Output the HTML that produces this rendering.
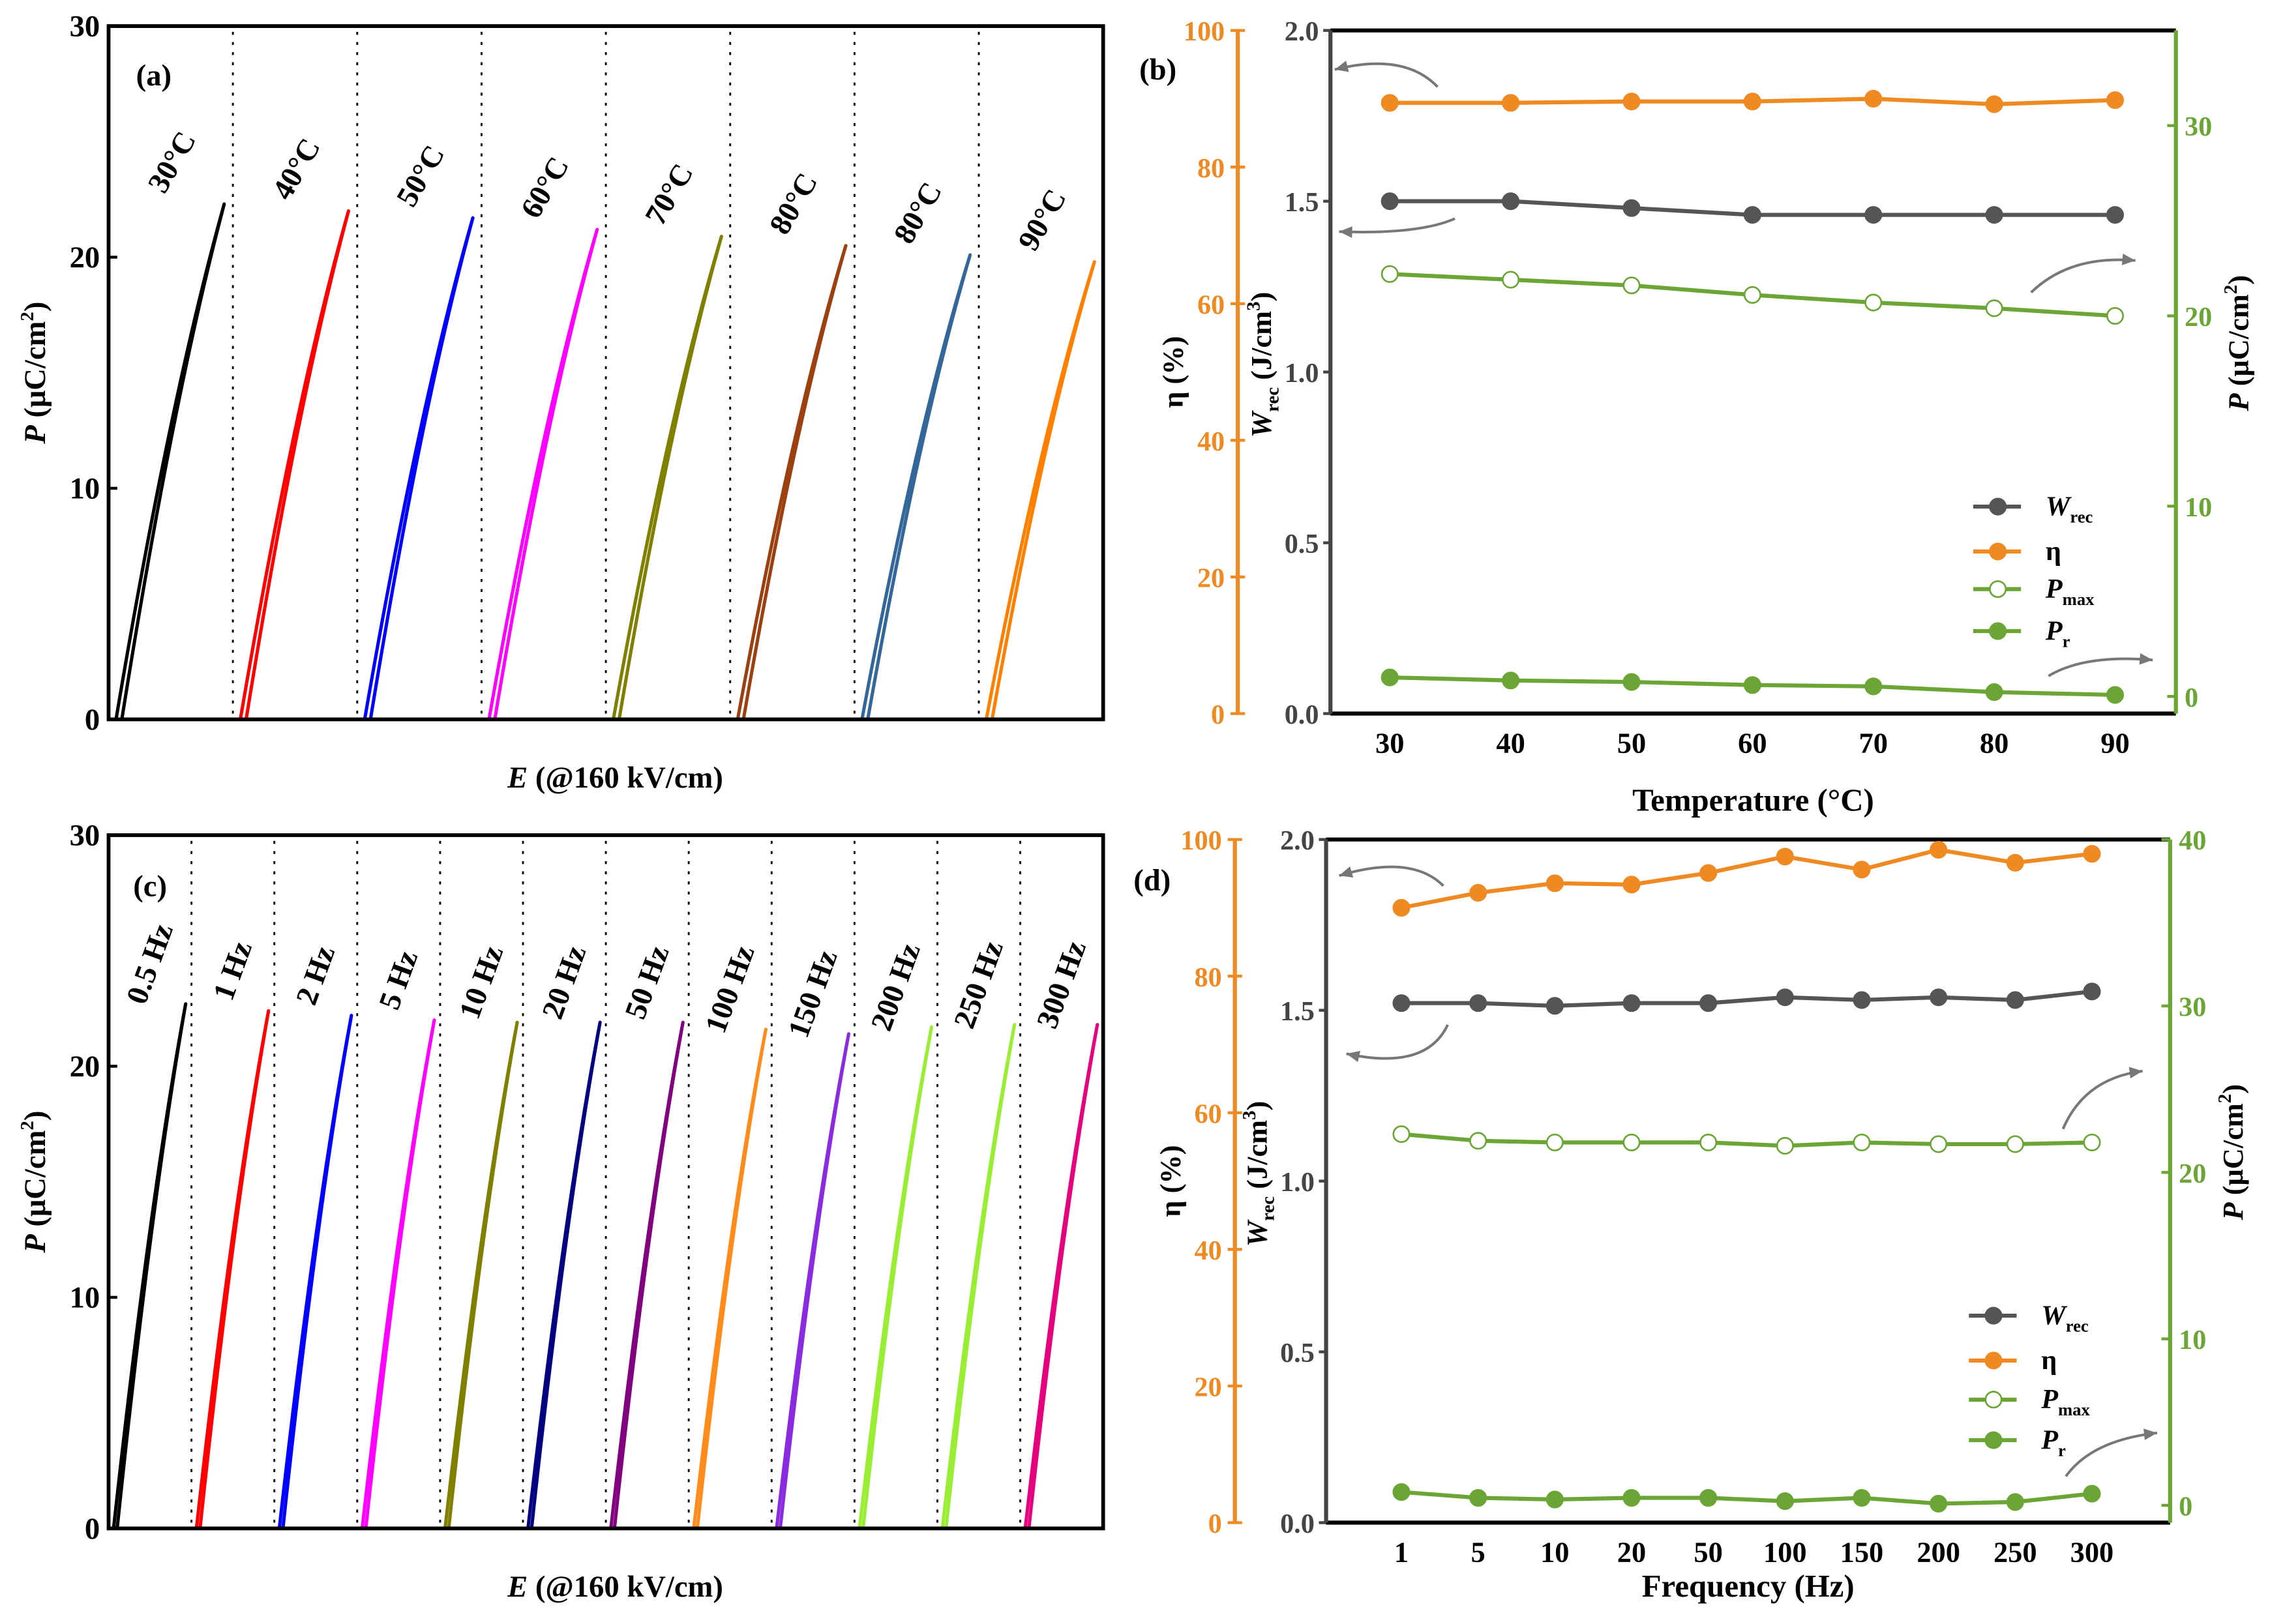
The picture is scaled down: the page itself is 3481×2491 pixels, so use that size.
<!DOCTYPE html>
<html><head><meta charset="utf-8">
<style>
html,body{margin:0;padding:0;background:#fff;}
svg{display:block;}
text{font-family:"Liberation Serif",serif;font-weight:bold;}
</style></head>
<body>
<svg id="fig" xmlns="http://www.w3.org/2000/svg" width="3481" height="2491" viewBox="0 0 1568 1122">
<rect x="0" y="0" width="1568" height="1122" fill="#fff"/>
<g id="gA"></g>
<g id="gC"></g>
<g id="gB"></g>
<g id="gD"></g>
</svg>
<script>
// ---- data ----
const aLabels = ["30°C","40°C","50°C","60°C","70°C","80°C","80°C","90°C"];
const aPmax = [22.3,22.0,21.7,21.2,20.9,20.5,20.1,19.8];
const aColors = ["#000000","#ff0000","#0000ff","#ff00ff","#808000","#9c4010","#336699","#ff8000"];
const cLabels = ["0.5 Hz","1 Hz","2 Hz","5 Hz","10 Hz","20 Hz","50 Hz","100 Hz","150 Hz","200 Hz","250 Hz","300 Hz"];
const cPmax = [22.7,22.4,22.2,22.0,21.9,21.9,21.9,21.6,21.4,21.7,21.8,21.8];
const cColors = ["#000000","#ff0000","#0000ff","#ff00ff","#808000","#000080","#800080","#ff8c1a","#8a2be2","#99ee33","#99ee33","#e6007e"];
const peTicks = [0,10,20,30];

const bTemps = [30,40,50,60,70,80,90];
const bW = [1.50,1.50,1.48,1.46,1.46,1.46,1.46];
const bEta = [89.4,89.4,89.6,89.6,90.0,89.2,89.8];
const bPmax = [22.2,21.9,21.6,21.1,20.7,20.4,20.0];
const bPr = [1.0,0.84,0.76,0.6,0.53,0.23,0.08];

const dFreqs = ["1","5","10","20","50","100","150","200","250","300"];
const dW = [1.521,1.521,1.513,1.521,1.521,1.538,1.53,1.538,1.53,1.555];
const dEta = [90.0,92.2,93.6,93.4,95.1,97.5,95.6,98.5,96.6,97.9];
const dPmax = [22.3,21.9,21.8,21.8,21.8,21.6,21.8,21.7,21.7,21.8];
const dPr = [0.8,0.45,0.35,0.45,0.45,0.25,0.45,0.1,0.2,0.7];

const wTicks = [0,0.5,1.0,1.5,2.0];
const etaTicks = [0,20,40,60,80,100];
const bPTicks = [0,10,20,30];
const dPTicks = [0,10,20,30,40];

const NS="http://www.w3.org/2000/svg";
function mk(parent,tag,attrs,txt){const e=document.createElementNS(NS,tag);for(const k in attrs)e.setAttribute(k,attrs[k]);if(txt!==undefined)e.textContent=txt;parent.appendChild(e);return e;}
const ORANGE="#ef8a23", GREEN="#6aa535", GRAY="#444";

// ---- P-E panels ----
function pePanel(g,top,bottom,labels,pmax,colors,off,rot,panelTxt,labX,labY,lblDy){
  const L=75,R=762;
  const y=v=>bottom-(v/30)*(bottom-top);
  const n=labels.length, w=(R-L)/n;
  for(let i=1;i<n;i++){
    const ln=mk(g,'line',{x1:L+i*w,x2:L+i*w,y1:top+4,y2:bottom,stroke:'#000','stroke-width':1.3,'stroke-dasharray':'2 5'});
    
    
  }
  for(let i=0;i<n;i++){
    const s=L+i*w, x0=s+0.06*w, x1=s+0.93*w;
    let up="",dn="";
    for(let k=0;k<=30;k++){const e=k/30;const f=1.25*e-0.25*e*e;const px=x0+e*(x1-x0);const py=y(pmax[i]*f);
      up+=(k?"L":"M")+px.toFixed(2)+","+py.toFixed(2)+" ";}
    for(let k=30;k>=0;k--){const e=k/30;const f=1.25*e-0.25*e*e;const px=x0+e*(x1-x0)+off*(1-e);const py=y(pmax[i]*f);
      dn+="L"+px.toFixed(2)+","+py.toFixed(2)+" ";}
    const p=mk(g,'path',{d:up+dn,fill:'none',stroke:colors[i],'stroke-width':2.3,'stroke-linejoin':'round'});
    
    
    const tx=s+0.53*w, ty=y(pmax[i])+lblDy;
    const t=mk(g,'text',{x:tx,y:ty,'font-size':21,'text-anchor':'middle','dominant-baseline':'middle',transform:`rotate(${rot} ${tx} ${ty})`},labels[i]);
    
    
  }
  const box=mk(g,'rect',{x:L,y:top,width:R-L,height:bottom-top,fill:'none',stroke:'#000','stroke-width':2.6});
  
  
  for(const v of peTicks){
    const tk=mk(g,'line',{x1:L,x2:L+6,y1:y(v),y2:y(v),stroke:'#000','stroke-width':2});
    
    
    const t=mk(g,'text',{x:L-6,y:y(v)+7,'font-size':21,'text-anchor':'end'},String(v));
    
    
  }
  const yl=mk(g,'text',{x:31,y:(top+bottom)/2,'font-size':21,'text-anchor':'middle',transform:`rotate(-90 31 ${(top+bottom)/2})`});
  yl.innerHTML='<tspan font-style="italic">P</tspan> (μC/cm<tspan font-size="13" dy="-8">2</tspan><tspan dy="8">)</tspan>';
  
  
  const xl=mk(g,'text',{x:425,y:bottom+47,'font-size':21,'text-anchor':'middle'});
  xl.innerHTML='<tspan font-style="italic">E</tspan> (@160 kV/cm)';
  
  
  const pl=mk(g,'text',{x:labX,y:labY,'font-size':21},panelTxt);
  
  
}
pePanel(document.getElementById('gA'),18,497,aLabels,aPmax,aColors,4,-60,"(a)",94,59,-28);
pePanel(document.getElementById('gC'),577,1056,cLabels,cPmax,cColors,2.5,-70,"(c)",92,619,-27);

// ---- property panels ----
function arrow(g,d){
  const p=mk(g,'path',{d:d,fill:'none',stroke:'#777','stroke-width':1.8});
  
  
  const nums=d.match(/-?[\d.]+/g).map(Number);
  const ex=nums[nums.length-2], ey=nums[nums.length-1], cx=nums[nums.length-4], cy=nums[nums.length-3];
  const a=Math.atan2(ey-cy,ex-cx), s=9;
  const pts=[[ex,ey],[ex-s*Math.cos(a)+4*Math.sin(a),ey-s*Math.sin(a)-4*Math.cos(a)],[ex-s*Math.cos(a)-4*Math.sin(a),ey-s*Math.sin(a)+4*Math.cos(a)]];
  const h=mk(g,'polygon',{points:pts.map(q=>q.join(',')).join(' '),fill:'#777'});
  
  
}
function propPanel(g,o){
  const {top,bottom,L,R,OX,xTicks,xPos,W,Eta,Pmax,Pr,pMin,pMax,pTicks,xTitle,legY,arrows,panelTxt,panelXY}=o;
  const yW=v=>bottom-v/2*(bottom-top);
  const yE=v=>bottom-v/100*(bottom-top);
  const yP=v=>bottom-(v-pMin)/(pMax-pMin)*(bottom-top);
  const f1=mk(g,'line',{x1:L,x2:R,y1:top,y2:top,stroke:'#000','stroke-width':2.8});
  
  const f2=mk(g,'line',{x1:L,x2:R,y1:bottom,y2:bottom,stroke:'#000','stroke-width':2.8});
  
  const wa=mk(g,'line',{x1:L,x2:L,y1:top,y2:bottom,stroke:GRAY,'stroke-width':2.8});
  
  const ga=mk(g,'line',{x1:R,x2:R,y1:top,y2:bottom,stroke:GREEN,'stroke-width':2.8});
  
  const oa=mk(g,'line',{x1:OX,x2:OX,y1:top,y2:bottom,stroke:ORANGE,'stroke-width':2.8});
  
  for(const v of wTicks){
    const t=mk(g,'line',{x1:L-5,x2:L,y1:yW(v),y2:yW(v),stroke:GRAY,'stroke-width':2});
    
    const l=mk(g,'text',{x:L-8,y:yW(v)+7,'font-size':19,'text-anchor':'end',fill:GRAY,'font-weight':'normal'},v.toFixed(1));
    
  }
  for(const v of etaTicks){
    const t=mk(g,'line',{x1:OX-5,x2:OX+5,y1:yE(v),y2:yE(v),stroke:ORANGE,'stroke-width':2});
    
    const l=mk(g,'text',{x:OX-9,y:yE(v)+7,'font-size':19,'text-anchor':'end',fill:ORANGE,'font-weight':'normal'},String(v));
    
  }
  for(const v of pTicks){
    const t=mk(g,'line',{x1:R-6,x2:R,y1:yP(v),y2:yP(v),stroke:GREEN,'stroke-width':2});
    
    const l=mk(g,'text',{x:R+6,y:yP(v)+7,'font-size':19,fill:GREEN,'font-weight':'normal'},String(v));
    
  }
  for(let i=0;i<xTicks.length;i++){
    const l=mk(g,'text',{x:xPos(i),y:bottom+27,'font-size':20,'text-anchor':'middle'},String(xTicks[i]));
    
  }
  const xt=mk(g,'text',{x:(L+R)/2,y:bottom+(o.xTitleDy),'font-size':22,'text-anchor':'middle'},xTitle);
  
  const mid=(top+bottom)/2;
  const et=mk(g,'text',{x:OX-38,y:mid,'font-size':20,'text-anchor':'middle','font-weight':'normal',transform:`rotate(-90 ${OX-38} ${mid})`},"η (%)");
  
  const wt=mk(g,'text',{x:L-41,y:mid-5,'font-size':20,'text-anchor':'middle',transform:`rotate(-90 ${L-41} ${mid-5})`});
  wt.innerHTML='<tspan font-style="italic">W</tspan><tspan font-size="13" dy="5">rec</tspan><tspan dy="-5"> (J/cm</tspan><tspan font-size="13" dy="-8">3</tspan><tspan dy="8">)</tspan>';
  
  const pt=mk(g,'text',{x:R+50,y:mid-20,'font-size':20,'text-anchor':'middle',transform:`rotate(-90 ${R+50} ${mid-20})`});
  pt.innerHTML='<tspan font-style="italic">P</tspan> (μC/cm<tspan font-size="13" dy="-8">2</tspan><tspan dy="8">)</tspan>';
  
  const series=[
    {name:'w-rec',vals:W,y:yW,col:'#555',fill:'#555'},
    {name:'eta',vals:Eta,y:yE,col:ORANGE,fill:ORANGE},
    {name:'p-max',vals:Pmax,y:yP,col:GREEN,fill:'#fff'},
    {name:'p-r',vals:Pr,y:yP,col:GREEN,fill:GREEN}
  ];
  for(const s of series){
    const pts=s.vals.map((v,i)=>xPos(i).toFixed(2)+','+s.y(v).toFixed(2)).join(' ');
    const pl=mk(g,'polyline',{points:pts,fill:'none',stroke:s.col,'stroke-width':2.8});
    
    s.vals.forEach((v,i)=>{
      const c=mk(g,'circle',{cx:xPos(i),cy:s.y(v),r:5.5,fill:s.fill,stroke:s.col,'stroke-width':1.2});
      
    });
  }
  const lx=o.legX, names=[['W','rec'],['η',''],['P','max'],['P','r']];
  series.forEach((s,i)=>{
    const ly=legY[i];
    const ln=mk(g,'line',{x1:lx,x2:lx+33,y1:ly,y2:ly,stroke:s.col,'stroke-width':2.8});
    
    const c=mk(g,'circle',{cx:lx+17,cy:ly,r:5.5,fill:s.fill,stroke:s.col,'stroke-width':1.2});
    
    const t=mk(g,'text',{x:lx+50,y:ly+6,'font-size':19});
    if(names[i][1]) t.innerHTML=`<tspan font-style="italic">${names[i][0]}</tspan><tspan font-size="12" dy="5">${names[i][1]}</tspan>`;
    else {t.textContent=names[i][0];t.setAttribute('font-weight','normal');}
    
  });
  arrows.forEach(d=>arrow(g,d));
  const pl=mk(g,'text',{x:panelXY[0],y:panelXY[1],'font-size':21},panelTxt);
  
}
propPanel(document.getElementById('gB'),{
  top:21,bottom:493,L:919,R:1503,OX:855,
  xTicks:bTemps,xPos:i=>960+(bTemps[i]-30)/60*(1461-960),
  W:bW,Eta:bEta,Pmax:bPmax,Pr:bPr,pMin:-0.9,pMax:35,pTicks:bPTicks,
  xTitle:"Temperature (°C)",xTitleDy:67,legX:1363,legY:[350,381,407,436],
  arrows:["M993,60 Q970,36 922,48","M1005,151 Q980,162 925,160","M1403,202 Q1430,176 1475,180","M1415,467 Q1440,452 1487,456"],
  panelTxt:"(b)",panelXY:[787,55]
});
propPanel(document.getElementById('gD'),{
  top:580,bottom:1052,L:916,R:1499,OX:853,
  xTicks:dFreqs,xPos:i=>968+i*(1445-968)/9,
  W:dW,Eta:dEta,Pmax:dPmax,Pr:dPr,pMin:-1.04,pMax:40,pTicks:dPTicks,
  xTitle:"Frequency (Hz)",xTitleDy:51,legX:1360,legY:[909,940,967,995],
  arrows:["M997,612 Q975,590 925,605","M1000,708 Q985,740 930,728","M1425,780 Q1440,745 1480,740","M1427,1020 Q1445,995 1490,990"],
  panelTxt:"(d)",panelXY:[783,615]
});
</script>
</body></html>
